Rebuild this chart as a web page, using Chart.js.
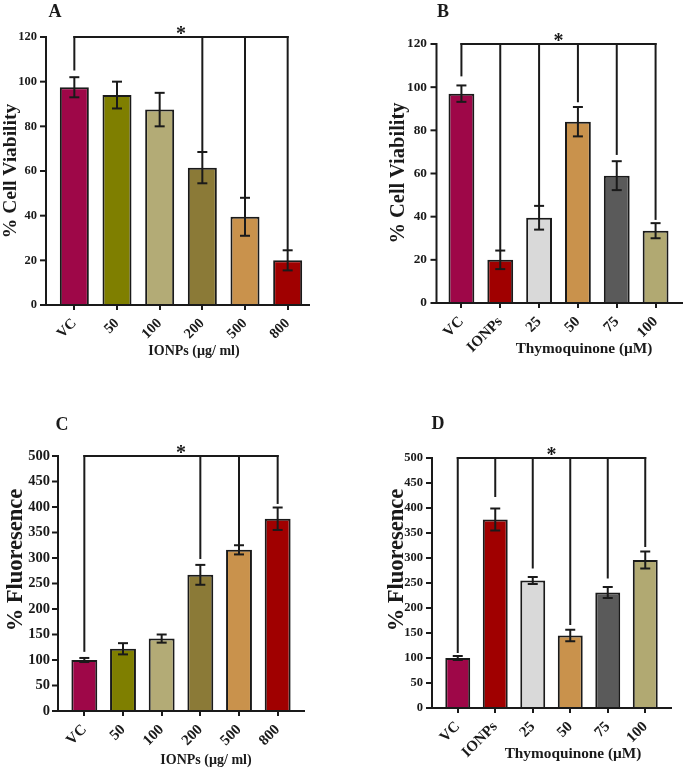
<!DOCTYPE html>
<html lang="en">
<head>
<meta charset="UTF-8">
<title>Cell viability / fluorescence</title>
<script src="https://cdn.jsdelivr.net/npm/chart.js@4.4.0/dist/chart.umd.min.js"></script>
<style>
  body { margin: 0; background: #fff; }
  #page { position: relative; width: 685px; height: 768px; overflow: hidden; font-family: "Liberation Serif", "Times New Roman", serif; font-weight: bold; color: #1a1a1a; }
  canvas { position: absolute; }
  .txt { position: absolute; white-space: nowrap; line-height: 1; transform: translate(-50%, -50%); }
  .ytitle { transform: translate(-50%, -50%) rotate(-90deg); }
</style>
</head>
<body>
<div id="page">
  <canvas id="chartA" width="342" height="380" style="left:0;top:0"></canvas>
  <canvas id="chartB" width="343" height="380" style="left:342px;top:0"></canvas>
  <canvas id="chartC" width="342" height="388" style="left:0;top:380px"></canvas>
  <canvas id="chartD" width="343" height="388" style="left:342px;top:380px"></canvas>

  <div class="txt" style="left:55px;top:11px;font-size:18px">A</div>
  <div class="txt" style="left:443px;top:11px;font-size:18px">B</div>
  <div class="txt" style="left:62px;top:424px;font-size:18px">C</div>
  <div class="txt" style="left:438px;top:423px;font-size:18px">D</div>

  <div class="txt ytitle" style="left:10px;top:171px;font-size:19.5px">% Cell Viability</div>
  <div class="txt ytitle" style="left:397px;top:173px;font-size:20.5px">% Cell Viability</div>
  <div class="txt ytitle" style="left:15px;top:560px;font-size:22.5px">% Fluoresence</div>
  <div class="txt ytitle" style="left:396px;top:560px;font-size:22.5px">% Fluoresence</div>

  <div class="txt" style="left:194px;top:351px;font-size:14px">IONPs (µg/ ml)</div>
  <div class="txt" style="left:584px;top:348px;font-size:15.3px">Thymoquinone (µM)</div>
  <div class="txt" style="left:206px;top:760px;font-size:14px">IONPs (µg/ ml)</div>
  <div class="txt" style="left:573px;top:753px;font-size:15.3px">Thymoquinone (µM)</div>
</div>

<script>
// カテゴリ
const ionpsLabels = ["VC", "50", "100", "200", "500", "800"];
const tqLabels = ["VC", "IONPs", "25", "50", "75", "100"];

// 細胞生存率 (%)
const viabilityIonps = [97.5, 94, 87.5, 61.5, 39.5, 20];
const viabilityIonpsErr = [4.5, 6, 7.5, 7, 8.5, 4.5];
const viabilityTq = [97, 20, 39.5, 84, 59, 33.5];
const viabilityTqErr = [3.8, 4.3, 5.5, 6.8, 6.7, 3.5];

// 蛍光 (%)
const fluorIonps = [100, 122, 142, 267, 316, 377];
const fluorIonpsErr = [4, 11, 8, 19.5, 9, 22];
const fluorTq = [100, 377, 255, 145, 231, 296];
const fluorTqErr = [4, 22, 7, 11.5, 11, 17];

// 有意差ブラケットの縦線の下端 (null = 線なし)
const sigA = [105, null, null, 68, 48, 24.5];
const sigB = [105, 24, 45, 93, 68.6, 38.5];
const sigC = [116, null, null, 298, 325, 406];
const sigD = [110, 422, 279, 166, 259, 322];

// 軸目盛り
const viabilityTicks = { max: 120, step: 20 };
const fluorTicks = { max: 500, step: 50 };

const INK = "#1a1a1a";
const FONT = "'Liberation Serif', 'Times New Roman', serif";

const colorsIonps = ["#9e0748", "#7f7f00", "#b3ab76", "#8b7a37", "#c9924c", "#a00000"];
const colorsTq = ["#9e0748", "#a00000", "#d9d9d9", "#c9924c", "#5a5a5a", "#b1a972"];

let charts = {};

// 誤差棒・軸・ブラケットの描画
const decorPlugin = {
  id: "decor",
  afterDatasetsDraw(chart, args, opts) {
    const ctx = chart.ctx;
    const area = chart.chartArea;
    const y = chart.scales.y;
    const meta = chart.getDatasetMeta(0);
    const values = chart.data.datasets[0].data;

    function line(x1, y1, x2, y2) {
      ctx.beginPath();
      ctx.moveTo(x1, y1);
      ctx.lineTo(x2, y2);
      ctx.stroke();
    }

    ctx.save();
    ctx.strokeStyle = INK;
    ctx.lineWidth = 2;

    // 誤差棒
    meta.data.forEach((bar, i) => {
      const yt = y.getPixelForValue(values[i] + opts.errors[i]);
      const yb = y.getPixelForValue(values[i] - opts.errors[i]);
      line(bar.x, yt, bar.x, yb);
      line(bar.x - 5, yt, bar.x + 5, yt);
      line(bar.x - 5, yb, bar.x + 5, yb);
    });

    // 軸
    const ax = area.left - opts.gap;
    line(ax, area.top - 1, ax, area.bottom + 1);
    y.ticks.forEach((t) => {
      const py = y.getPixelForValue(t.value);
      line(ax - 6, py, ax, py);
    });
    line(ax - 1, area.bottom, area.right + opts.ext, area.bottom);

    // 有意差ブラケット
    const top = y.getPixelForValue(y.max);
    const xs = [];
    opts.sig.forEach((v, i) => {
      if (v === null) return;
      const x = meta.data[i].x;
      xs.push(x);
      line(x, top - 1, x, y.getPixelForValue(v));
    });
    line(xs[0] - 1, top, xs[xs.length - 1] + 1, top);

    ctx.fillStyle = INK;
    ctx.font = "bold 20px " + FONT;
    ctx.textAlign = "center";
    ctx.textBaseline = "alphabetic";
    ctx.fillText("*", (xs[0] + xs[xs.length - 1]) / 2, top + 3);

    ctx.restore();
  },
};

function makeChart(p) {
  return new Chart(document.getElementById(p.id), {
    type: "bar",
    data: {
      labels: p.labels,
      datasets: [
        {
          data: p.values,
          backgroundColor: p.colors,
          borderColor: INK,
          borderWidth: 2,
          barPercentage: p.barPct,
          categoryPercentage: 1,
        },
      ],
    },
    options: {
      responsive: false,
      animation: false,
      layout: { padding: { left: 0, top: p.top, right: p.right, bottom: 0 } },
      plugins: {
        legend: { display: false },
        tooltip: { enabled: false },
        decor: { errors: p.errors, sig: p.sig, gap: p.gap, ext: p.ext },
      },
      scales: {
        x: {
          offset: true,
          border: { display: false },
          grid: {
            display: true,
            drawOnChartArea: false,
            drawTicks: true,
            tickLength: 5,
            offset: false,
            color: INK,
            lineWidth: 2,
          },
          ticks: {
            color: INK,
            font: { family: FONT, weight: "bold", size: p.xFont },
            minRotation: 45,
            maxRotation: 45,
            autoSkip: false,
            padding: 5,
          },
          afterFit(scale) {
            scale.height = p.xHeight;
            scale.paddingLeft = 0;
            scale.paddingRight = 0;
          },
        },
        y: {
          min: 0,
          max: p.axis.max,
          border: { display: false },
          grid: { display: false },
          ticks: {
            stepSize: p.axis.step,
            color: INK,
            font: { family: FONT, weight: "bold", size: p.yFont },
            padding: p.tickPad,
          },
          afterFit(scale) {
            scale.width = p.yWidth;
            scale.paddingTop = 0;
            scale.paddingBottom = 0;
          },
        },
      },
    },
    plugins: [decorPlugin],
  });
}

charts.a = makeChart({
  id: "chartA", labels: ionpsLabels, values: viabilityIonps, errors: viabilityIonpsErr,
  sig: sigA, colors: colorsIonps, axis: viabilityTicks,
  top: 37, right: 33, yWidth: 53, xHeight: 75, gap: 7, ext: 1,
  barPct: 0.68, xFont: 14.5, yFont: 12.5, tickPad: 8,
});

charts.b = makeChart({
  id: "chartB", labels: tqLabels, values: viabilityTq, errors: viabilityTqErr,
  sig: sigB, colors: colorsTq, axis: viabilityTicks,
  top: 44, right: 10, yWidth: 100, xHeight: 77, gap: 5.5, ext: 8,
  barPct: 0.665, xFont: 15, yFont: 13.3, tickPad: 7,
});

charts.c = makeChart({
  id: "chartC", labels: ionpsLabels, values: fluorIonps, errors: fluorIonpsErr,
  sig: sigC, colors: colorsIonps, axis: fluorTicks,
  top: 76, right: 45, yWidth: 65, xHeight: 57, gap: 7, ext: 8,
  barPct: 0.67, xFont: 15, yFont: 14.5, tickPad: 7,
});

charts.d = makeChart({
  id: "chartD", labels: tqLabels, values: fluorTq, errors: fluorTqErr,
  sig: sigD, colors: colorsTq, axis: fluorTicks,
  top: 78, right: 21, yWidth: 97, xHeight: 60, gap: 7, ext: 8,
  barPct: 0.665, xFont: 15, yFont: 12.5, tickPad: 8,
});
</script>
</body>
</html>
